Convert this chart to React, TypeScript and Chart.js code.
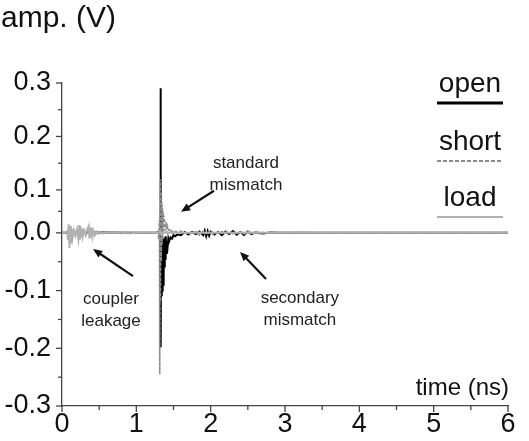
import React, { useEffect, useRef } from 'react';
import { Chart, registerables, LinearScale } from 'chart.js';

Chart.register(...registerables);

// ---- data ----
const xTicks = [0, 1, 2, 3, 4, 5, 6];
const yTicks = [-0.3, -0.2, -0.1, 0.0, 0.1, 0.2, 0.3];

const openT = [0, 0.5, 1.0, 1.25, 1.30, 1.32, 1.325, 1.33, 1.335, 1.34, 1.345, 1.35, 1.355, 1.36, 1.365, 1.37, 1.375, 1.38, 1.385, 1.39, 1.395, 1.40, 1.41, 1.42, 1.43, 1.44, 1.46, 1.48, 1.50, 1.52, 1.55, 1.6, 1.65, 1.7, 1.75, 1.8, 1.85, 1.9, 1.92, 1.94, 1.96, 1.98, 2.0, 2.05, 2.1, 2.15, 2.2, 2.25, 2.3, 2.35, 2.4, 2.45, 2.5, 2.55, 2.6, 2.7, 2.8, 2.9, 3.0, 3.2, 3.5, 4.0, 4.5, 5.0, 5.5, 6.0];
const openV = [0, 0.001, 0, 0, 0.002, -0.005, 0.29, -0.198, 0.05, -0.11, -0.02, -0.1, -0.015, -0.09, -0.01, -0.075, -0.012, -0.06, -0.008, -0.045, -0.006, -0.035, -0.02, -0.025, -0.01, -0.015, -0.008, -0.01, -0.004, -0.006, -0.003, -0.004, 0.002, -0.003, 0.002, -0.002, 0.003, -0.004, 0.005, -0.006, 0.004, -0.005, 0.003, -0.003, 0.002, -0.004, 0.003, -0.002, 0.004, -0.003, 0.002, -0.004, 0.003, -0.002, 0.001, -0.001, 0.001, 0, 0, 0, 0, 0, 0, 0, 0, 0];

const shortT = [0, 0.5, 1.0, 1.25, 1.29, 1.30, 1.31, 1.315, 1.32, 1.325, 1.33, 1.335, 1.34, 1.345, 1.35, 1.355, 1.36, 1.365, 1.37, 1.38, 1.39, 1.40, 1.41, 1.42, 1.44, 1.46, 1.48, 1.50, 1.55, 1.6, 1.7, 1.8, 1.85, 1.9, 1.95, 2.0, 2.05, 2.1, 2.2, 2.3, 2.4, 2.45, 2.5, 2.55, 2.6, 2.7, 2.8, 2.9, 3.0, 3.2, 3.5, 4.0, 5.0, 6.0];
const shortV = [0, 0, 0, 0, 0.002, -0.01, 0.03, -0.245, 0.12, -0.12, 0.095, -0.05, 0.08, -0.02, 0.065, -0.01, 0.05, 0, 0.04, 0.03, 0.005, 0.025, 0, 0.015, 0.006, 0.01, -0.002, 0.006, 0.002, 0.004, -0.002, 0.003, -0.004, 0.005, -0.003, 0.004, -0.002, 0.002, 0.003, -0.002, 0.002, -0.003, 0.004, -0.002, 0.002, 0.001, -0.001, 0.001, 0, 0.001, 0, 0, 0, 0];

const loadT = [0, 0.05, 0.07, 0.08, 0.09, 0.10, 0.11, 0.12, 0.13, 0.14, 0.16, 0.18, 0.20, 0.22, 0.23, 0.24, 0.25, 0.26, 0.27, 0.28, 0.30, 0.32, 0.34, 0.36, 0.37, 0.38, 0.39, 0.40, 0.41, 0.42, 0.44, 0.46, 0.48, 0.50, 0.55, 0.6, 0.7, 0.8, 0.9, 1.0, 1.1, 1.2, 1.3, 1.32, 1.34, 1.36, 1.4, 1.5, 1.7, 1.9, 2.1, 2.3, 2.5, 2.7, 3.0, 3.5, 4.0, 4.5, 5.0, 5.5, 6.0];
const loadV = [0, 0, 0.004, -0.012, 0.02, -0.026, 0.016, -0.018, 0.01, -0.01, 0.006, -0.005, 0.008, -0.01, 0.018, -0.012, 0.014, -0.008, 0.01, -0.006, 0.005, -0.004, 0.008, 0.016, -0.01, 0.013, -0.008, 0.009, -0.005, 0.006, -0.004, 0.003, -0.002, 0.002, -0.001, 0.001, 0, 0.001, -0.001, 0.001, 0, 0.001, 0, 0.004, -0.003, 0.002, 0, 0.001, 0, 0.001, 0, 0, 0.001, 0, 0, 0, 0, 0, 0, 0, 0];

const legendLabels = ['open', 'short', 'load'];
const seriesColors = ['#000000', '#8c8c8c', '#b0b0b0'];

// annotations (data coordinates)
const noteLines = [['standard', 'mismatch'], ['coupler', 'leakage'], ['secondary', 'mismatch']];
const noteT = [2.475, 0.659, 3.20];
const noteV = [0.13, -0.135, -0.132];
const arrowFromT = [2.045, 0.955, 2.745];
const arrowFromV = [0.098, -0.075, -0.080];
const arrowToT = [1.601, 0.417, 2.395];
const arrowToV = [0.049, -0.028, -0.033];

// the printed (scanned) axis is not evenly spaced: value knots and their
// fractional position down the axis
const KNOT_VALUES = [0.3, 0.1, 0.0, -0.3];
const KNOT_FRACS = [0, 0.331, 0.464, 1];

const FONT = '"Liberation Sans", Arial, sans-serif';

class KnotScale extends (LinearScale as any) {
  static id = 'knot';
  getPixelForValue(value: number) {
    const top = this.top;
    const h = this.bottom - this.top;
    for (let i = 0; i < KNOT_VALUES.length - 1; i++) {
      const a = KNOT_VALUES[i];
      const b = KNOT_VALUES[i + 1];
      if (value <= a && value >= b || i === KNOT_VALUES.length - 2 || (i === 0 && value > a)) {
        const f = KNOT_FRACS[i] + ((a - value) / (a - b)) * (KNOT_FRACS[i + 1] - KNOT_FRACS[i]);
        return top + f * h;
      }
    }
    return top;
  }
  getValueForPixel(pixel: number) {
    const f = (pixel - this.top) / (this.bottom - this.top);
    for (let i = 0; i < KNOT_FRACS.length - 1; i++) {
      if (f <= KNOT_FRACS[i + 1] || i === KNOT_FRACS.length - 2) {
        const t = (f - KNOT_FRACS[i]) / (KNOT_FRACS[i + 1] - KNOT_FRACS[i]);
        return KNOT_VALUES[i] + t * (KNOT_VALUES[i + 1] - KNOT_VALUES[i]);
      }
    }
    return 0;
  }
}
Chart.register(KnotScale as any);

const zip = (t: number[], v: number[]) => t.map((x, i) => ({ x, y: v[i] ?? 0 }));

const decorPlugin = {
  id: 'decor',
  afterDraw(chart: any) {
    const ctx = chart.ctx as CanvasRenderingContext2D;
    const xs = chart.scales.x;
    const ys = chart.scales.y;
    const area = chart.chartArea;
    ctx.save();
    // tick marks
    ctx.strokeStyle = '#444';
    ctx.lineWidth = 1.3;
    for (let i = 0; i <= 12; i++) {
      const px = xs.getPixelForValue(i * 0.5);
      const len = i % 2 === 0 ? 6 : 4;
      ctx.beginPath();
      ctx.moveTo(px, area.bottom);
      ctx.lineTo(px, area.bottom + len);
      ctx.stroke();
    }
    for (let i = 0; i <= 12; i++) {
      const py = ys.getPixelForValue(-0.3 + i * 0.05);
      const len = i % 2 === 0 ? 6 : 4;
      ctx.beginPath();
      ctx.moveTo(area.left, py);
      ctx.lineTo(area.left - len, py);
      ctx.stroke();
    }
    // axis titles
    ctx.fillStyle = '#111';
    ctx.textBaseline = 'alphabetic';
    ctx.textAlign = 'left';
    ctx.font = `30px ${FONT}`;
    ctx.fillText('amp. (V)', 1, 27);
    ctx.textAlign = 'right';
    ctx.font = `24px ${FONT}`;
    ctx.fillText('time (ns)', area.right + 1, area.bottom - 11);
    // legend
    const lx0 = area.right - 71;
    const lx1 = area.right - 5;
    const lineYs = [area.top + 20, area.top + 78, area.top + 134];
    for (let i = 0; i < legendLabels.length; i++) {
      ctx.fillStyle = '#111';
      ctx.textAlign = 'center';
      ctx.font = `28px ${FONT}`;
      ctx.fillText(legendLabels[i], (lx0 + lx1) / 2, lineYs[i] - 11);
      ctx.strokeStyle = seriesColors[i];
      ctx.lineWidth = i === 0 ? 3 : 2.2;
      ctx.setLineDash(i === 1 ? [4, 2] : []);
      ctx.beginPath();
      ctx.moveTo(lx0, lineYs[i]);
      ctx.lineTo(lx1, lineYs[i]);
      ctx.stroke();
    }
    ctx.setLineDash([]);
    // annotations
    ctx.font = `17px ${FONT}`;
    ctx.textAlign = 'center';
    ctx.textBaseline = 'middle';
    for (let i = 0; i < noteLines.length; i++) {
      ctx.fillStyle = '#222';
      const cx = xs.getPixelForValue(noteT[i]);
      const cy = ys.getPixelForValue(noteV[i]);
      const lines = noteLines[i];
      lines.forEach((s, k) => {
        ctx.fillText(s, cx, cy + (k - (lines.length - 1) / 2) * 22);
      });
      const x0 = xs.getPixelForValue(arrowFromT[i]);
      const y0 = ys.getPixelForValue(arrowFromV[i]);
      const x1 = xs.getPixelForValue(arrowToT[i]);
      const y1 = ys.getPixelForValue(arrowToV[i]);
      const ang = Math.atan2(y1 - y0, x1 - x0);
      ctx.strokeStyle = '#111';
      ctx.lineWidth = 2.2;
      ctx.beginPath();
      ctx.moveTo(x0, y0);
      ctx.lineTo(x1 - 4 * Math.cos(ang), y1 - 4 * Math.sin(ang));
      ctx.stroke();
      ctx.fillStyle = '#111';
      ctx.beginPath();
      ctx.moveTo(x1, y1);
      ctx.lineTo(x1 - 10 * Math.cos(ang - 0.4), y1 - 10 * Math.sin(ang - 0.4));
      ctx.lineTo(x1 - 10 * Math.cos(ang + 0.4), y1 - 10 * Math.sin(ang + 0.4));
      ctx.closePath();
      ctx.fill();
    }
    ctx.restore();
  },
};

export default function App() {
  const ref = useRef<HTMLCanvasElement | null>(null);
  useEffect(() => {
    document.body.style.margin = '0';
    const canvas = ref.current!;
    const chart = new Chart(canvas, {
      type: 'line',
      data: {
        datasets: [
          { label: 'load', data: zip(loadT, loadV), borderColor: seriesColors[2], borderWidth: 2, pointRadius: 0, tension: 0 },
          { label: 'short', data: zip(shortT, shortV), borderColor: seriesColors[1], borderWidth: 1.6, borderDash: [3, 2], pointRadius: 0, tension: 0 },
          { label: 'open', data: zip(openT, openV), borderColor: seriesColors[0], borderWidth: 2, pointRadius: 0, tension: 0 },
        ],
      },
      options: {
        responsive: false,
        animation: false,
        events: [],
        layout: { padding: { top: 83, right: 21, left: 0, bottom: 0 } },
        plugins: { legend: { display: false }, tooltip: { enabled: false } },
        scales: {
          x: {
            type: 'linear',
            min: 0,
            max: 6,
            afterFit: (s: any) => { s.height = 35; },
            afterBuildTicks: (s: any) => { s.ticks = xTicks.map((v) => ({ value: v })); },
            ticks: { color: '#111', font: { family: FONT, size: 27 }, padding: 2, maxRotation: 0, autoSkip: false, callback: (v: any) => String(v) },
            grid: { display: true, drawOnChartArea: false, drawTicks: false },
            border: { display: true, color: '#444', width: 1.3 },
          },
          y: {
            type: 'knot' as any,
            min: -0.3,
            max: 0.3,
            afterFit: (s: any) => { s.width = 62; },
            afterBuildTicks: (s: any) => { s.ticks = yTicks.map((v) => ({ value: v })); },
            ticks: { color: '#111', font: { family: FONT, size: 27 }, padding: 11, autoSkip: false, callback: (v: any) => (Math.abs(v) < 1e-9 ? '0.0' : Number(v).toFixed(1)) },
            grid: { display: true, drawOnChartArea: false, drawTicks: false },
            border: { display: true, color: '#444', width: 1.3 },
          },
        },
      },
      plugins: [decorPlugin],
    });
    return () => chart.destroy();
  }, []);
  return <canvas ref={ref} width={529} height={441} style={{ display: 'block' }} />;
}
